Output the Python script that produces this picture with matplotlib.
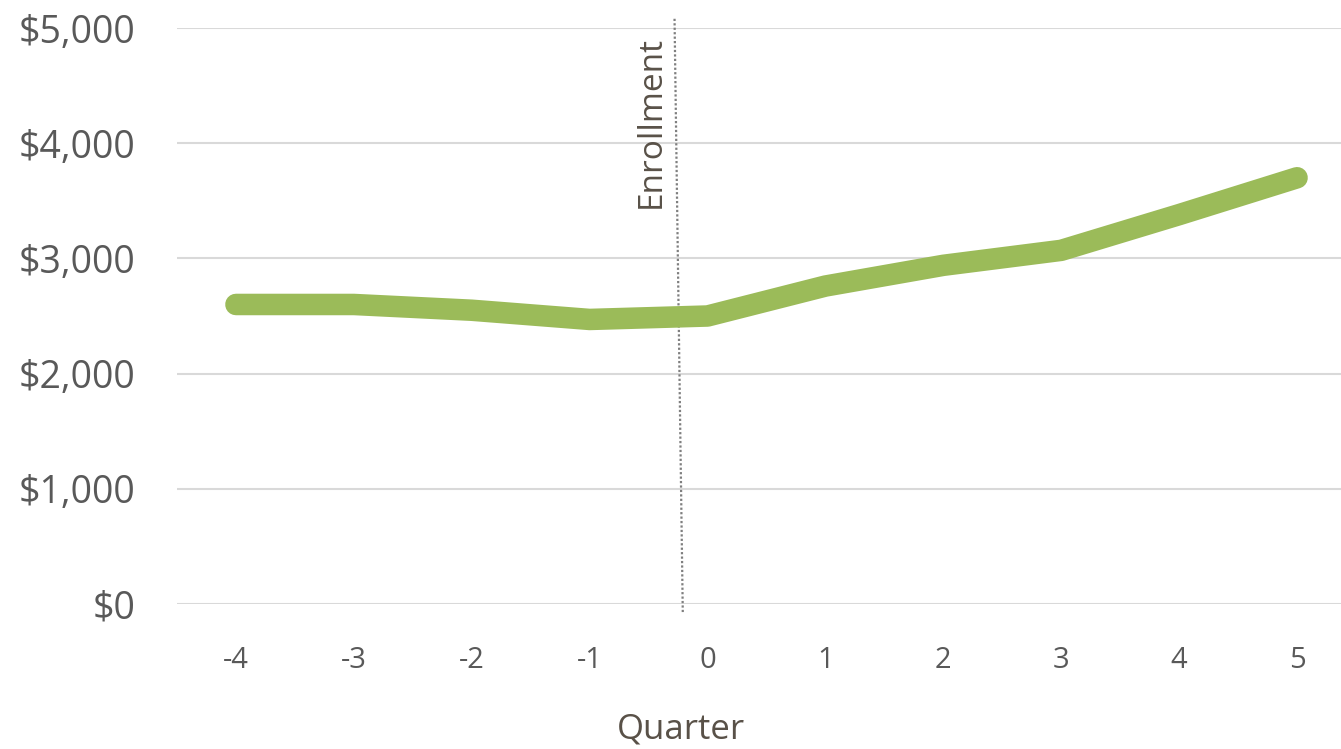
import matplotlib
matplotlib.use('Agg')
import matplotlib.pyplot as plt
import matplotlib.ticker as ticker

plt.rcParams['font.family'] = ['Open Sans', 'DejaVu Sans']
plt.rcParams['axes.unicode_minus'] = False

# data
quarters = [-4, -3, -2, -1, 0, 1, 2, 3, 4, 5]
spending = [2600, 2600, 2550, 2470, 2500, 2760, 2940, 3070, 3380, 3700]
enroll_label = 'Enrollment'

GREEN = '#9BBB59'
GRID = '#D9D9D9'
TICK = '#595959'
TEXT = '#595148'

fig = plt.figure(figsize=(13.41, 7.49), dpi=100)
ax = fig.add_axes([177 / 1341, 145 / 749, 1179 / 1341, 576 / 749])

ax.plot(quarters, spending, color=GREEN, linewidth=15.5,
        solid_capstyle='round', solid_joinstyle='round', zorder=3, clip_on=False)

ax.set_xlim(-4.5, 5.5)
ax.set_ylim(0, 5000)
ax.set_xticks(quarters)
ax.xaxis.set_major_formatter(ticker.FuncFormatter(lambda v, p: f'{v:.0f}'))
ax.yaxis.set_major_locator(ticker.MultipleLocator(1000))
ax.yaxis.set_major_formatter(ticker.FuncFormatter(lambda v, p: f'${v:,.0f}'))
ax.grid(axis='y', color=GRID, linewidth=1.5, zorder=0)
ax.set_axisbelow(True)
for s in ax.spines.values():
    s.set_visible(False)
ax.tick_params(axis='both', length=0)
ax.tick_params(axis='y', labelsize=27, labelcolor=TICK, pad=30)
ax.tick_params(axis='x', labelsize=21, labelcolor=TICK, pad=30)

# enrollment marker (dotted, slightly slanted as in source)
ax.plot([-0.28, -0.21], [5080, -80], color='#7F7F7F', linewidth=1.6,
        linestyle=(0, (1, 1)), clip_on=False, zorder=2)
ax.text(-0.48, 4930, enroll_label, rotation=90, ha='center', va='top',
        fontsize=24, color=TEXT)

ax.set_xlabel('Quarter', fontsize=25, color=TEXT, va='center')
ax.xaxis.set_label_coords((681 - 177) / 1179, -(729 - 604) / 576)

fig.savefig('out.png', dpi=100)
